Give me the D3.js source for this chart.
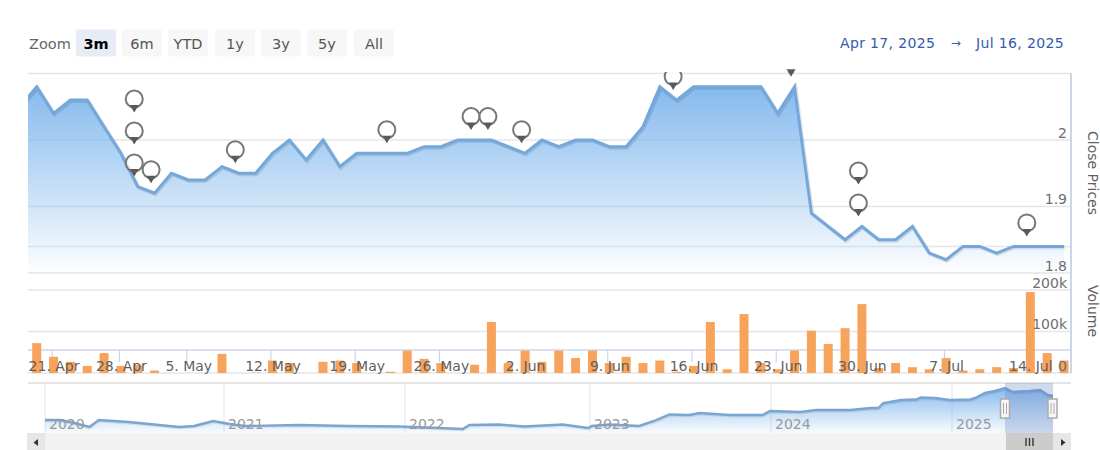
<!DOCTYPE html>
<html>
<head>
<meta charset="utf-8">
<script src="https://cdnjs.cloudflare.com/ajax/libs/d3/7.8.5/d3.min.js"></script>
<style>
html, body { margin: 0; padding: 0; background: #fff; }
svg { display: block; font-family: "DejaVu Sans", sans-serif; }
.domain { display: none; }
</style>
</head>
<body>
<svg id="chart" width="1100" height="450"></svg>
<script>
// first close is the session before the visible range, it is cut off by the plot edge
var closes = [2.05,
  2.08, 2.04, 2.06, 2.06, 2.02, 1.98, 1.93, 1.92, 1.95, 1.94,
  1.94, 1.96, 1.95, 1.95, 1.98, 2.00, 1.97, 2.00, 1.96, 1.98,
  1.98, 1.98, 1.98, 1.99, 1.99, 2.00, 2.00, 2.00, 1.99, 1.98,
  2.00, 1.99, 2.00, 2.00, 1.99, 1.99, 2.02, 2.08, 2.06, 2.08,
  2.08, 2.08, 2.08, 2.08, 2.04, 2.08, 1.89, 1.87, 1.85, 1.87,
  1.85, 1.85, 1.87, 1.83, 1.82, 1.84, 1.84, 1.83, 1.84, 1.84,
  1.84, 1.84];

var volumes = [72, 39, 27, 17, 48, 17, 19, 6, 0, 0,
  0, 46, 0, 1, 30, 24, 0, 27, 30, 24,
  0, 3, 54, 34, 24, 0, 20, 123, 24, 54,
  27, 54, 36, 54, 24, 39, 24, 30, 3, 17,
  123, 9, 142, 24, 9, 54, 102, 70, 108, 166,
  12, 24, 14, 9, 36, 6, 9, 14, 12, 195,
  48, 30];

var tickDays = [1, 5, 9, 14, 19, 24, 29, 34, 39, 44, 49, 54, 59];
var tickLabels = ["21. Apr", "28. Apr", "5. May", "12. May", "19. May", "26. May", "2. Jun", "9. Jun", "16. Jun", "23. Jun", "30. Jun", "7. Jul", "14. Jul"];

// day index of every flag, repeated days stack upward
var flagDays = [6, 6, 6, 7, 12, 21, 26, 27, 29, 38, 45, 49, 49, 59];

var priceTicks = [2.1, 2, 1.9, 1.8];
var volumeTicks = [0, 100, 200];

var zoomButtons = ["3m", "6m", "YTD", "1y", "3y", "5y", "All"];

var navDates = ["2020-01-01","2020-02-01","2020-03-01","2020-04-01","2020-04-20","2020-06-20","2020-08-01","2020-10-01","2020-11-01","2020-12-10",
  "2021-01-13","2021-02-12","2021-06-01","2021-09-10","2021-12-20","2022-03-10","2022-04-25","2022-05-08","2022-07-05","2022-08-25",
  "2022-11-08","2022-12-28","2023-01-05","2023-02-10","2023-04-10","2023-05-10","2023-06-10","2023-07-20","2023-08-10","2023-10-10",
  "2023-12-15","2023-12-30","2024-03-01","2024-04-01","2024-06-10","2024-07-20","2024-08-05","2024-08-15","2024-09-20","2024-10-20",
  "2024-10-30","2024-11-28","2024-12-28","2025-02-05","2025-02-15","2025-03-06","2025-03-25","2025-04-14","2025-04-29","2025-06-01",
  "2025-06-21","2025-07-06","2025-07-16"];
var navCloses = [0.88, 0.88, 0.76, 0.60, 0.88, 0.80, 0.72, 0.60, 0.64, 0.84,
  0.72, 0.64, 0.68, 0.64, 0.62, 0.56, 0.52, 0.68, 0.70, 0.62,
  0.70, 0.56, 0.64, 0.70, 0.64, 0.84, 1.10, 1.08, 1.16, 1.08,
  1.08, 1.24, 1.20, 1.28, 1.28, 1.36, 1.36, 1.56, 1.68, 1.70,
  1.78, 1.76, 1.68, 1.70, 1.76, 1.96, 2.04, 2.16, 2.00, 2.04,
  2.08, 1.88, 1.84];
var navYears = [2020, 2021, 2022, 2023, 2024, 2025];

var svg = d3.select("#chart");
var defs = svg.append("defs");

var left = 28, right = 1071;

var x = d3.scaleLinear().domain([0, 61]).range([36.7, 1064]);
var y = d3.scaleLinear().domain([1.8, 2.1]).range([273, 73.5]);
var yVol = d3.scaleLinear().domain([0, 200]).range([373, 290]);

// ordinal navigator: years are not quite equal in width
var navX = d3.scaleTime()
  .domain([new Date(2020, 0, 1), new Date(2021, 0, 1), new Date(2022, 0, 1), new Date(2023, 0, 1), new Date(2024, 0, 1), new Date(2025, 0, 1), new Date(2025, 6, 16)])
  .range([45, 224, 405, 590, 771, 952, 1053]);
var navY = d3.scaleLinear().domain([0.36, 2.36]).range([433, 383]);

/* gradients */
var g1 = defs.append("linearGradient").attr("id", "areaFill")
  .attr("gradientUnits", "userSpaceOnUse").attr("x1", 0).attr("x2", 0).attr("y1", 73).attr("y2", 273);
g1.append("stop").attr("offset", 0).attr("stop-color", "#7cb5ec");
g1.append("stop").attr("offset", 1).attr("stop-color", "#7cb5ec").attr("stop-opacity", 0.02);

var g2 = defs.append("linearGradient").attr("id", "navFill")
  .attr("gradientUnits", "userSpaceOnUse").attr("x1", 0).attr("x2", 0).attr("y1", 383).attr("y2", 433);
g2.append("stop").attr("offset", 0).attr("stop-color", "#7cb5ec");
g2.append("stop").attr("offset", 1).attr("stop-color", "#7cb5ec").attr("stop-opacity", 0.05);

defs.append("clipPath").attr("id", "plotClip").append("rect")
  .attr("x", left).attr("y", 67).attr("width", right - left).attr("height", 206);
defs.append("clipPath").attr("id", "lineClip").append("rect")
  .attr("x", left).attr("y", 72).attr("width", right - left).attr("height", 201);

/* range selector */
svg.append("text").attr("x", 29).attr("y", 49).attr("fill", "#666").style("font-size", "14.5px").text("Zoom");

var btnX = [76, 122, 168, 215, 261, 307, 354];
zoomButtons.forEach(function (b, i) {
  svg.append("rect").attr("x", btnX[i]).attr("y", 29.5).attr("width", 40).attr("height", 27).attr("rx", 2)
    .attr("fill", i == 0 ? "#e6ebf5" : "#f7f7f7");
  svg.append("text").attr("x", btnX[i] + 20).attr("y", 49).attr("text-anchor", "middle")
    .attr("fill", i == 0 ? "#000" : "#555")
    .style("font-size", "14.5px").style("font-weight", i == 0 ? "bold" : "normal").text(b);
});

var dateText = svg.append("g").attr("fill", "#335cad").style("font-size", "14px").style("letter-spacing", "0.35px");
dateText.append("text").attr("x", 840).attr("y", 48).text("Apr 17, 2025");
dateText.append("text").attr("x", 956).attr("y", 47).attr("text-anchor", "middle").style("font-size", "12px").text("\u2192");
dateText.append("text").attr("x", 1064).attr("y", 48).attr("text-anchor", "end").text("Jul 16, 2025");

/* grid lines */
var grid = svg.append("g").attr("stroke", "#e6e6e6").attr("stroke-width", 1.5);
priceTicks.forEach(function (t) {
  grid.append("line").attr("x1", left).attr("x2", right).attr("y1", y(t)).attr("y2", y(t));
});
volumeTicks.slice(1).forEach(function (t) {
  grid.append("line").attr("x1", left).attr("x2", right).attr("y1", yVol(t)).attr("y2", yVol(t));
});
grid.append("line").attr("x1", left).attr("x2", right).attr("y1", 373).attr("y2", 373);
grid.append("line").attr("x1", left).attr("x2", right).attr("y1", y(1.84)).attr("y2", y(1.84));

/* x axis line, behind the bars */
svg.append("line").attr("x1", left).attr("x2", right).attr("y1", 350).attr("y2", 350)
  .attr("stroke", "#ccd6eb").attr("stroke-width", 1.5);
svg.selectAll(".tickmark").data(tickDays).enter().append("line").attr("class", "tickmark")
  .attr("x1", function (d) { return x(d) - 1.5; }).attr("x2", function (d) { return x(d) - 1.5; })
  .attr("y1", 350).attr("y2", 362).attr("stroke", "#ccd6eb").attr("stroke-width", 1.2);

/* price area and line */
var days = closes.map(function (d, i) { return i - 1; });
var area = d3.area().x(function (d) { return x(d); }).y0(y(1.8)).y1(function (d) { return y(closes[d + 1]); });
var line = d3.line().x(function (d) { return x(d); }).y(function (d) { return y(closes[d + 1]); });

var plot = svg.append("g").attr("clip-path", "url(#lineClip)");
plot.append("path").attr("d", area(days)).attr("fill", "url(#areaFill)");
plot.append("path").attr("d", line(days)).attr("fill", "none").attr("stroke", "#000").attr("stroke-opacity", 0.1)
  .attr("stroke-width", 4).attr("transform", "translate(1,1)");
plot.append("path").attr("d", line(days)).attr("fill", "none").attr("stroke", "#74a8dc").attr("stroke-width", 3);

/* volume bars */
svg.append("g").selectAll("rect").data(volumes).enter().append("rect")
  .attr("x", function (d, i) { return x(i) - 4.5; })
  .attr("width", 9)
  .attr("y", function (d) { return yVol(d); })
  .attr("height", function (d) { return yVol(0) - yVol(d); })
  .attr("fill", "#f7a35c");

/* flags: circles stop at the plot top, the pointers may poke a little above it */
var seen = {};
var flagCircles = svg.append("g").attr("clip-path", "url(#lineClip)");
var flagTips = svg.append("g").attr("clip-path", "url(#plotClip)");
flagDays.forEach(function (day) {
  var stack = seen[day] || 0;
  seen[day] = stack + 1;
  var tip = y(closes[day + 1]) - 10 - stack * 32;
  var fx = x(day) - 3.5;
  flagCircles.append("circle").attr("cx", fx).attr("cy", tip - 13.5).attr("r", 8.5)
    .attr("fill", "#fff").attr("fill-opacity", 0.7)
    .attr("stroke", "#777").attr("stroke-width", 2);
  flagTips.append("path").attr("transform", "translate(" + fx + "," + tip + ")")
    .attr("d", "M-4.5,-7.5L4.5,-7.5L0,0Z").attr("fill", "#5a5a5a");
});

/* axes */
var xAxis = d3.axisBottom(x).tickValues(tickDays).tickSize(0).tickPadding(0)
  .tickFormat(function (d, i) { return tickLabels[i]; });
svg.append("g").attr("transform", "translate(0,361.5)").call(xAxis)
  .call(function (g) {
    g.selectAll("text").attr("fill", "#5f5f5f").style("font-size", "14px").style("font-family", "DejaVu Sans").attr("dy", "0.71em");
    g.selectAll("line").remove();
  });

var yAxis = d3.axisLeft(y).tickValues([2, 1.9, 1.8]).tickSize(0).tickPadding(0).tickFormat(d3.format(""));
svg.append("g").attr("transform", "translate(1067,-7)").call(yAxis)
  .call(function (g) {
    g.selectAll("text").attr("fill", "#6e6e6e").style("font-size", "14px").style("font-family", "DejaVu Sans");
    g.selectAll("line").remove();
  });

var vAxis = d3.axisLeft(yVol).tickValues(volumeTicks).tickSize(0).tickPadding(0)
  .tickFormat(function (d) { return d == 0 ? "0" : d + "k"; });
svg.append("g").attr("transform", "translate(1067,-7)").call(vAxis)
  .call(function (g) {
    g.selectAll("text").attr("fill", "#6e6e6e").style("font-size", "14px").style("font-family", "DejaVu Sans");
    g.selectAll("line").remove();
  });

/* right axis line */
svg.append("line").attr("x1", right).attr("x2", right).attr("y1", 73).attr("y2", 373)
  .attr("stroke", "#ccd6eb").attr("stroke-width", 2);

svg.append("text").attr("transform", "translate(1087.5,173) rotate(90)").attr("text-anchor", "middle")
  .attr("fill", "#5f5f5f").style("font-size", "14px").text("Close Prices");
svg.append("text").attr("transform", "translate(1087.5,311) rotate(90)").attr("text-anchor", "middle")
  .attr("fill", "#5f5f5f").style("font-size", "14px").text("Volume");

/* navigator */
svg.append("line").attr("x1", left).attr("x2", right).attr("y1", 383).attr("y2", 383)
  .attr("stroke", "#ddd").attr("stroke-width", 1.5);
var navData = navDates.map(function (d, i) { return { date: d3.timeParse("%Y-%m-%d")(d), close: navCloses[i] }; });
navYears.forEach(function (yr) {
  var nx = navX(new Date(yr, 0, 1));
  svg.append("line").attr("x1", nx).attr("x2", nx).attr("y1", 383).attr("y2", 433).attr("stroke", "#e6e9f2").attr("stroke-width", 1.2);
});
var navArea = d3.area().x(function (d) { return navX(d.date); }).y0(433).y1(function (d) { return navY(d.close); });
var navLine = d3.line().x(function (d) { return navX(d.date); }).y(function (d) { return navY(d.close); });
svg.append("path").attr("d", navArea(navData)).attr("fill", "url(#navFill)");
svg.append("path").attr("d", navLine(navData)).attr("fill", "none").attr("stroke", "#000").attr("stroke-opacity", 0.08)
  .attr("stroke-width", 3).attr("transform", "translate(0.5,1)");
svg.append("path").attr("d", navLine(navData)).attr("fill", "none").attr("stroke", "#7aa5d2").attr("stroke-width", 2.4);
navYears.forEach(function (yr) {
  svg.append("text").attr("x", navX(new Date(yr, 0, 1)) + 4).attr("y", 429).attr("fill", "#999")
    .style("font-size", "14px").text(yr);
});

// selected window
svg.append("rect").attr("x", 1005).attr("y", 383).attr("width", 48).attr("height", 50)
  .attr("fill", "#6685c2").attr("fill-opacity", 0.3);

/* scrollbar */
svg.append("rect").attr("x", 27).attr("y", 433).attr("width", 1044).attr("height", 17).attr("fill", "#f2f2f2");
svg.append("rect").attr("x", 27).attr("y", 433).attr("width", 18).attr("height", 17).attr("fill", "#e6e6e6");
svg.append("rect").attr("x", 1053).attr("y", 433).attr("width", 18).attr("height", 17).attr("fill", "#e6e6e6");
svg.append("rect").attr("x", 1006).attr("y", 433).attr("width", 47).attr("height", 17).attr("fill", "#cccccc");
[1026, 1029.5, 1033].forEach(function (lx) {
  svg.append("line").attr("x1", lx).attr("x2", lx).attr("y1", 438).attr("y2", 446).attr("stroke", "#333").attr("stroke-width", 1.4);
});
svg.append("path").attr("d", "M38,439L38,446L33.5,442.5Z").attr("fill", "#333");
svg.append("path").attr("d", "M1061,439L1061,446L1065.5,442.5Z").attr("fill", "#333");

/* navigator handles */
[1005, 1052.5].forEach(function (hx) {
  svg.append("rect").attr("x", hx - 4.5).attr("y", 399).attr("width", 9).attr("height", 19)
    .attr("fill", "#f7f7f7").attr("stroke", "#aaa").attr("stroke-width", 1.5);
  svg.append("line").attr("x1", hx - 1.5).attr("x2", hx - 1.5).attr("y1", 403).attr("y2", 414).attr("stroke", "#aaa");
  svg.append("line").attr("x1", hx + 1.5).attr("x2", hx + 1.5).attr("y1", 403).attr("y2", 414).attr("stroke", "#aaa");
});
</script>
</body>
</html>
